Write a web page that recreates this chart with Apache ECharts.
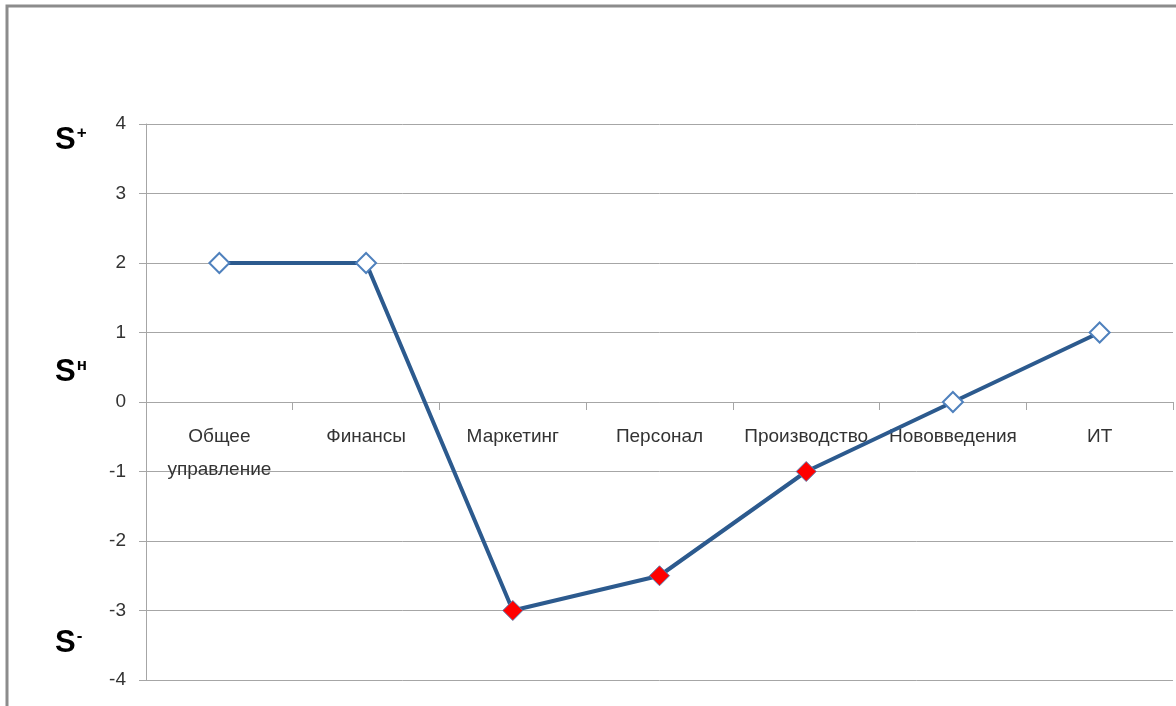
<!DOCTYPE html>
<html>
<head>
<meta charset="utf-8">
<script src="https://cdn.jsdelivr.net/npm/echarts@6/dist/echarts.min.js"></script>
<style>html,body{margin:0;padding:0;background:#fff}#c{width:1176px;height:706px}</style>
</head>
<body>
<div id="c"></div>
<script>
const categories = ['Общее управление', 'Финансы', 'Маркетинг', 'Персонал', 'Производство', 'Нововведения', 'ИТ'];
const values = [2, 2, -3, -2.5, -1, 0, 1];
const negativeFlags = [false, false, true, true, true, false, false];
const yTicks = { min: -4, max: 4, interval: 1 };
const sideLabels = [
  { base: 'S', sup: '+', value: 3.76 },
  { base: 'S', sup: 'н', value: 0.43 },
  { base: 'S', sup: '-', value: -3.47 }
];

const chart = echarts.init(document.getElementById('c'));
const FONT = 'Liberation Sans';
const SFONT = "'Liberation Sans Narrow', 'Liberation Sans', sans-serif";
const grid = { left: 146, right: 3, top: 124, bottom: 26, containLabel: false, outerBoundsMode: 'none' };

const seriesData = values.map((v, i) => ({
  value: v,
  itemStyle: negativeFlags[i]
    ? { color: '#ff0000', borderColor: '#5a7fb0', borderWidth: 1 }
    : { color: '#ffffff', borderColor: '#4f81bd', borderWidth: 2 }
}));

const frame = { type: 'rect', shape: { x: 7, y: 6, width: 1300, height: 900 }, style: { fill: 'none', stroke: '#8c8c8c', lineWidth: 3 }, silent: true, z: -1 };

function buildOption(xOffset) {
  return {
    animation: false,
    grid: grid,
    graphic: [frame],
    xAxis: {
      type: 'category',
      data: categories,
      boundaryGap: true,
      position: 'bottom',
      offset: xOffset,
      axisLine: { onZero: false, lineStyle: { color: '#a6a6a6', width: 1 } },
      axisTick: { show: true, length: 8, lineStyle: { color: '#a6a6a6' } },
      axisLabel: {
        interval: 0, margin: 18, color: '#333', fontFamily: FONT, fontSize: 19, lineHeight: 33,
        formatter: v => v.replace(' ', '\n')
      },
      splitLine: { show: false }
    },
    yAxis: {
      type: 'value',
      min: yTicks.min, max: yTicks.max, interval: yTicks.interval,
      axisLine: { show: true, lineStyle: { color: '#a6a6a6', width: 1 } },
      axisTick: { show: true, length: 7, lineStyle: { color: '#a6a6a6' } },
      axisLabel: { margin: 20, color: '#333', fontFamily: FONT, fontSize: 19 },
      splitLine: { show: true, lineStyle: { color: '#a6a6a6', width: 1 } }
    },
    series: [{
      type: 'line',
      data: seriesData,
      symbol: 'diamond',
      symbolSize: 20,
      lineStyle: { color: '#2c5a8e', width: 4 },
      itemStyle: { color: '#2c5a8e' },
      z: 3
    }]
  };
}

chart.setOption(buildOption(0));
// move the category axis (line, ticks, labels) onto the value 0 through the y scale
const yBottom = chart.convertToPixel({ yAxisIndex: 0 }, yTicks.min);
const yZero = chart.convertToPixel({ yAxisIndex: 0 }, 0);
chart.setOption(buildOption(-(yBottom - yZero)));

const g = sideLabels.map(s => {
  const p = chart.convertToPixel({ yAxisIndex: 0 }, s.value);
  return {
    type: 'text', x: 55, y: p,
    style: {
      text: '{a|' + s.base + '}{b|' + s.sup + '}',
      verticalAlign: 'middle',
      rich: {
        a: { fontFamily: SFONT, fontSize: 31, fontWeight: 'bold', fill: '#000', color: '#000' },
        b: { fontFamily: SFONT, fontSize: 17, fontWeight: 'bold', fill: '#000', color: '#000', verticalAlign: 'top', padding: [0, 0, 0, 1] }
      }
    }
  };
});
chart.setOption({ graphic: [frame].concat(g) });
</script>
</body>
</html>
